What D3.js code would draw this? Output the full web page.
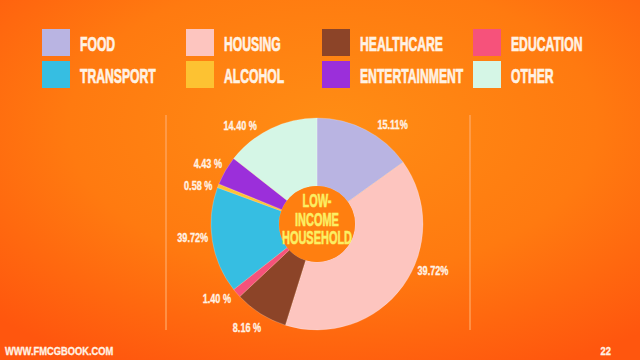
<!DOCTYPE html>
<html>
<head>
<meta charset="utf-8">
<script src="https://cdn.jsdelivr.net/npm/d3@7/dist/d3.min.js"></script>
<style>
  html, body { margin: 0; padding: 0; background: #ff6a10; }
  svg { display: block; }
</style>
</head>
<body>
<script>
// spending shares, clockwise from 12 o'clock
const categories = ["FOOD", "HOUSING", "HEALTHCARE", "EDUCATION", "TRANSPORT", "ALCOHOL", "ENTERTAINMENT", "OTHER"];
const shares = [15.11, 39.72, 8.16, 1.40, 16.20, 0.58, 4.43, 14.40];
// labels as printed on the slide (transport label repeats 39.72%)
const shareLabels = ["15.11%", "39.72%", "8.16 %", "1.40 %", "39.72%", "0.58 %", "4.43 %", "14.40 %"];
const colors = ["#b9b4e2", "#fdc5bf", "#8c4428", "#f6527b", "#36bee2", "#fdc232", "#9b2fda", "#d5f6e6"];
const centerLines = ["LOW-", "INCOME", "HOUSEHOLD"];

const width = 640, height = 360;
const FONT = "'Liberation Sans', Arial, sans-serif";
const SQUEEZE = 0.58;

const svg = d3.select("body").append("svg")
    .attr("width", width)
    .attr("height", height);

// background
const defs = svg.append("defs");
const grad = defs.append("radialGradient")
    .attr("id", "bg")
    .attr("cx", "52%").attr("cy", "35%").attr("r", "75%");
grad.append("stop").attr("offset", "0%").attr("stop-color", "#ff8d14");
grad.append("stop").attr("offset", "55%").attr("stop-color", "#ff7a10");
grad.append("stop").attr("offset", "100%").attr("stop-color", "#ff560e");
svg.append("rect")
    .attr("width", width).attr("height", height)
    .attr("fill", "url(#bg)");

// squeezed text helper (the slide uses a very condensed display face)
function squeezedText(parent, x, y, str, size, opts) {
    opts = opts || {};
    const fill = opts.fill || "#fff2e4";
    const g = parent.append("g").attr("transform", "translate(" + x + "," + y + ")");
    g.append("text")
        .attr("transform", "scale(" + (opts.sx || SQUEEZE) + ",1)")
        .attr("text-anchor", opts.anchor || "start")
        .attr("dominant-baseline", opts.baseline || "auto")
        .style("font-family", FONT)
        .style("font-weight", "bold")
        .style("font-size", size + "px")
        .attr("fill", fill)
        .attr("stroke", fill)
        .attr("stroke-width", opts.heavy || 0)
        .text(str);
    return g;
}

// legend
const colX = d3.scaleOrdinal().domain(d3.range(4)).range([42, 186, 322, 473]);
const rowY = d3.scalePoint().domain([0, 1]).range([29, 61]);
const SW = 28;
const legend = svg.append("g").attr("id", "legend");
categories.forEach((c, i) => {
    const x = colX(i % 4), y = rowY(Math.floor(i / 4));
    legend.append("rect")
        .attr("x", x).attr("y", y)
        .attr("width", SW).attr("height", SW - 1)
        .attr("fill", colors[i]);
    squeezedText(legend, x + SW + 10, y + 22, c, 21, { heavy: 0.7 });
});

// side rules
[166, 470].forEach(x => {
    svg.append("line")
        .attr("x1", x).attr("x2", x)
        .attr("y1", 115).attr("y2", 330)
        .attr("stroke", "#ffab6a")
        .attr("stroke-width", 1.5)
        .attr("opacity", 0.8);
});

// donut
const cx = 317, cy = 224, R = 106, r0 = 38;
const pie = d3.pie().sort(null).value(d => d);
const arcs = pie(shares);
const arc = d3.arc().innerRadius(r0).outerRadius(R);
const chart = svg.append("g").attr("transform", "translate(" + cx + "," + cy + ")");
chart.selectAll("path.slice")
    .data(arcs)
    .enter().append("path")
    .attr("class", "slice")
    .attr("d", arc)
    .attr("fill", (d, i) => colors[i])
    .attr("stroke", "#fff")
    .attr("stroke-opacity", 0.35)
    .attr("stroke-width", 0.6);

chart.append("circle")
    .attr("r", r0)
    .attr("fill", "#ff7f10");

// percentage labels
const labelR = 125;
const nudge = [10, -14, 2, 4, 3, -3, -1, -12]; // degrees
arcs.forEach((d, i) => {
    const a = (d.startAngle + d.endAngle) / 2 + nudge[i] * Math.PI / 180;
    const lx = labelR * Math.sin(a), ly = -labelR * Math.cos(a);
    squeezedText(chart, lx, ly, shareLabels[i], 12, { anchor: "middle", baseline: "central", sx: 0.76, heavy: 0.3 });
});

// centre title
const lineY = d3.scalePoint().domain(d3.range(centerLines.length)).range([-17, 20]);
centerLines.forEach((t, i) => {
    squeezedText(chart, 0, lineY(i), t, 18, { anchor: "middle", fill: "#fbef63", sx: 0.61, heavy: 0.6 });
});

// footer
squeezedText(svg, 5, 355, "WWW.FMCGBOOK.COM", 11, { sx: 0.85, heavy: 0.3 });
squeezedText(svg, 611, 355, "22", 11, { anchor: "end", sx: 0.85, heavy: 0.3 });
</script>
</body>
</html>
